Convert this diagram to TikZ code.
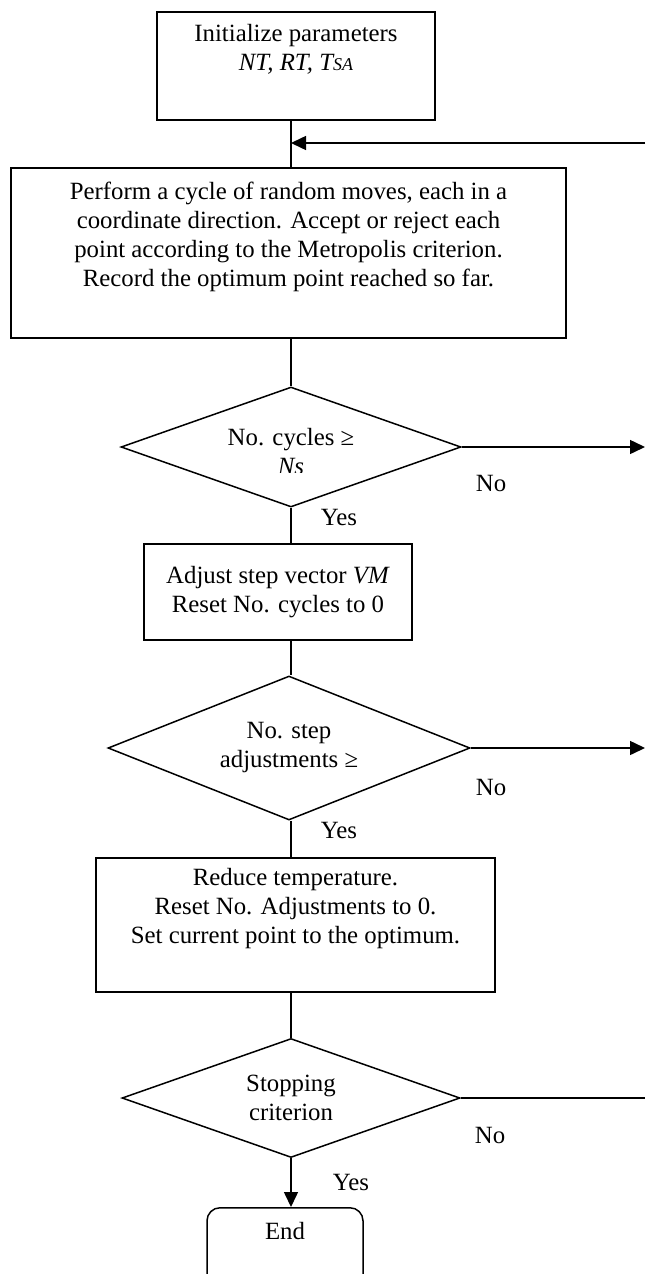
\documentclass[tikz,border=0pt]{standalone}
\usepackage{fontspec}
\setmainfont{Liberation Serif}
\usetikzlibrary{arrows.meta}
\usetikzlibrary{shapes.geometric}

\begin{document}
\begin{tikzpicture}[x=0.5pt,y=-0.5pt,line width=0.75pt,
    every node/.style={font=\fontsize{12.4}{14.5}\selectfont,align=center,inner sep=0pt},
    process/.style={draw,rectangle},
    decision/.style={draw,diamond,aspect=2.6},
    terminal/.style={draw,rectangle,rounded corners=6.5pt},
    flow/.style={-{Triangle[length=7.5pt,width=7pt]}}]
    \clip (0,0) rectangle (645,1274);
    \coordinate (spine) at (291,0);
    \coordinate (rail) at (645,143);
    % Steps.
    \node[process,minimum width=139pt,minimum height=54pt] (init) at (296,66)
      {Initialize parameters\\\textit{NT, RT, T{\small SA}}\\\strut};
    \node[process,minimum width=277.5pt,minimum height=85pt] (perf) at (288.5,253)
      {Perform a cycle of random moves, each in a\\coordinate direction. Accept or reject each\\
       point according to the Metropolis criterion.\\Record the optimum point reached so far.\\\strut};
    \node[decision,minimum width=170pt,minimum height=60pt] (cyc) at (291,447) {};
    \begin{scope}
      \clip (121,380) rectangle (461,472);
      \node (cyctext) at (291,452) {No. cycles ≥\\\textit{Ns}};
    \end{scope}
    \node[process,minimum width=134pt,minimum height=48pt] (adj) at (278,592)
      {Adjust step vector \textit{VM}\\Reset No. cycles to 0};
    \node[decision,minimum width=181pt,minimum height=72pt] (steps) at (289,748)
      {No. step\\adjustments ≥};
    \node[process,minimum width=199.5pt,minimum height=67pt] (reduce) at (295.5,925)
      {Reduce temperature.\\Reset No. Adjustments to 0.\\Set current point to the optimum.\\\strut};
    \node[decision,minimum width=169pt,minimum height=59.5pt] (stop) at (291,1098)
      {Stopping\\criterion};
    \node[terminal,anchor=north,minimum width=78pt,minimum height=42pt] (end) at (285,1207)
      {End\\\strut};
    % Answers.
    \node (no1) at (491,483) {No};
    \node (yes1) at (339,517) {Yes};
    \node (no2) at (491,787) {No};
    \node (yes2) at (339,830) {Yes};
    \node (no3) at (490,1135) {No};
    \node (yes3) at (351,1182) {Yes};
    % Flow.
    \draw (init.south -| spine) -- (perf.north -| spine);
    \draw[flow] (rail) -- (rail -| spine);
    \draw (perf.south -| spine) -- (cyc.north);
    \draw[flow] (cyc.east) -- (cyc.east -| rail);
    \draw (cyc.south) -- (adj.north -| spine);
    \draw (adj.south -| spine) -- (steps.north -| spine);
    \draw[flow] (steps.east) -- (steps.east -| rail);
    \draw (steps.south -| spine) -- (reduce.north -| spine);
    \draw (reduce.south -| spine) -- (stop.north);
    \draw (stop.east) -- (stop.east -| rail);
    \draw[flow] (stop.south) -- (stop.south |- end.north);
\end{tikzpicture}
\end{document}
